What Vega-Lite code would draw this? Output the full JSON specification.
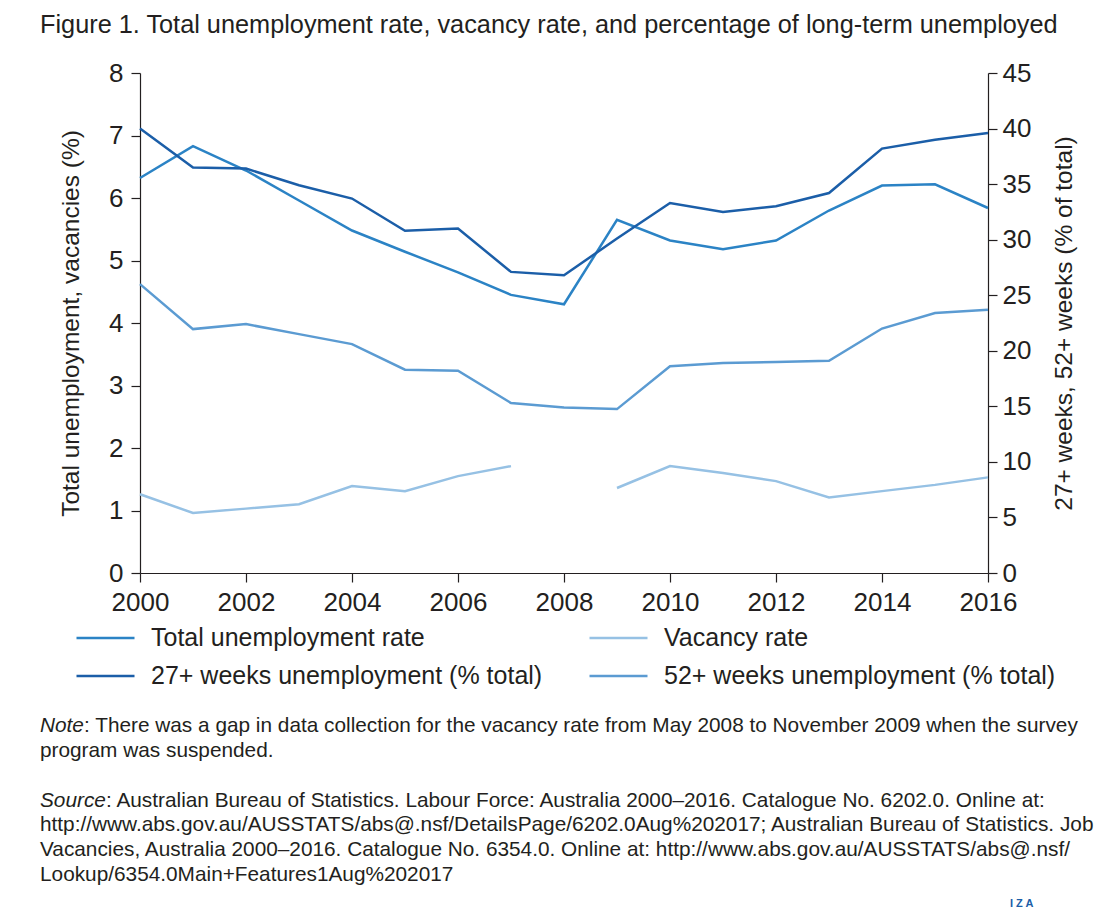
{
  "$schema": "https://vega.github.io/schema/vega-lite/v6.json",
  "background": "white",
  "padding": {"left": 40, "top": 12, "right": 0, "bottom": 0},
  "title": {
    "text": "Figure 1. Total unemployment rate, vacancy rate, and percentage of long-term unemployed",
    "anchor": "start",
    "fontSize": 25.3,
    "fontWeight": "normal",
    "color": "#231f20",
    "font": "Liberation Sans",
    "offset": 22
  },
  "config": {
    "font": "Liberation Sans",
    "view": {"stroke": null},
    "axis": {
      "labelFontSize": 26,
      "labelColor": "#231f20",
      "domainColor": "#231f20",
      "tickColor": "#231f20",
      "tickSize": 9,
      "domainWidth": 1.2,
      "tickWidth": 1.2,
      "titleFontSize": 24.5,
      "titleFontWeight": "normal",
      "titleColor": "#231f20",
      "grid": false,
      "labelFont": "Liberation Sans",
      "titleFont": "Liberation Sans"
    }
  },
  "spacing": 100,
  "vconcat": [
    {
      "width": 848,
      "height": 500,
      "data": {
        "values": [
          {"year": 2000, "series": "Total unemployment rate", "value": 6.32},
          {"year": 2001, "series": "Total unemployment rate", "value": 6.83},
          {"year": 2002, "series": "Total unemployment rate", "value": 6.44},
          {"year": 2003, "series": "Total unemployment rate", "value": 5.96},
          {"year": 2004, "series": "Total unemployment rate", "value": 5.48},
          {"year": 2005, "series": "Total unemployment rate", "value": 5.14},
          {"year": 2006, "series": "Total unemployment rate", "value": 4.81},
          {"year": 2007, "series": "Total unemployment rate", "value": 4.45},
          {"year": 2008, "series": "Total unemployment rate", "value": 4.30},
          {"year": 2009, "series": "Total unemployment rate", "value": 5.65},
          {"year": 2010, "series": "Total unemployment rate", "value": 5.32},
          {"year": 2011, "series": "Total unemployment rate", "value": 5.18},
          {"year": 2012, "series": "Total unemployment rate", "value": 5.32},
          {"year": 2013, "series": "Total unemployment rate", "value": 5.80},
          {"year": 2014, "series": "Total unemployment rate", "value": 6.20},
          {"year": 2015, "series": "Total unemployment rate", "value": 6.22},
          {"year": 2016, "series": "Total unemployment rate", "value": 5.84},
          {"year": 2000, "series": "Vacancy rate", "value": 1.26},
          {"year": 2001, "series": "Vacancy rate", "value": 0.96},
          {"year": 2002, "series": "Vacancy rate", "value": 1.03},
          {"year": 2003, "series": "Vacancy rate", "value": 1.10},
          {"year": 2004, "series": "Vacancy rate", "value": 1.39},
          {"year": 2005, "series": "Vacancy rate", "value": 1.31},
          {"year": 2006, "series": "Vacancy rate", "value": 1.55},
          {"year": 2007, "series": "Vacancy rate", "value": 1.71},
          {"year": 2008, "series": "Vacancy rate", "value": null},
          {"year": 2009, "series": "Vacancy rate", "value": 1.36},
          {"year": 2010, "series": "Vacancy rate", "value": 1.71},
          {"year": 2011, "series": "Vacancy rate", "value": 1.60},
          {"year": 2012, "series": "Vacancy rate", "value": 1.47},
          {"year": 2013, "series": "Vacancy rate", "value": 1.21},
          {"year": 2014, "series": "Vacancy rate", "value": 1.31},
          {"year": 2015, "series": "Vacancy rate", "value": 1.41},
          {"year": 2016, "series": "Vacancy rate", "value": 1.53},
          {"year": 2000, "series": "27+ weeks unemployment (% total)", "value": 40.0},
          {"year": 2001, "series": "27+ weeks unemployment (% total)", "value": 36.5},
          {"year": 2002, "series": "27+ weeks unemployment (% total)", "value": 36.4},
          {"year": 2003, "series": "27+ weeks unemployment (% total)", "value": 34.9},
          {"year": 2004, "series": "27+ weeks unemployment (% total)", "value": 33.7},
          {"year": 2005, "series": "27+ weeks unemployment (% total)", "value": 30.8},
          {"year": 2006, "series": "27+ weeks unemployment (% total)", "value": 31.0},
          {"year": 2007, "series": "27+ weeks unemployment (% total)", "value": 27.1},
          {"year": 2008, "series": "27+ weeks unemployment (% total)", "value": 26.8},
          {"year": 2009, "series": "27+ weeks unemployment (% total)", "value": 30.1},
          {"year": 2010, "series": "27+ weeks unemployment (% total)", "value": 33.3},
          {"year": 2011, "series": "27+ weeks unemployment (% total)", "value": 32.5},
          {"year": 2012, "series": "27+ weeks unemployment (% total)", "value": 33.0},
          {"year": 2013, "series": "27+ weeks unemployment (% total)", "value": 34.2},
          {"year": 2014, "series": "27+ weeks unemployment (% total)", "value": 38.2},
          {"year": 2015, "series": "27+ weeks unemployment (% total)", "value": 39.0},
          {"year": 2016, "series": "27+ weeks unemployment (% total)", "value": 39.6},
          {"year": 2000, "series": "52+ weeks unemployment (% total)", "value": 26.0},
          {"year": 2001, "series": "52+ weeks unemployment (% total)", "value": 21.95},
          {"year": 2002, "series": "52+ weeks unemployment (% total)", "value": 22.4},
          {"year": 2003, "series": "52+ weeks unemployment (% total)", "value": 21.5},
          {"year": 2004, "series": "52+ weeks unemployment (% total)", "value": 20.6},
          {"year": 2005, "series": "52+ weeks unemployment (% total)", "value": 18.3},
          {"year": 2006, "series": "52+ weeks unemployment (% total)", "value": 18.2},
          {"year": 2007, "series": "52+ weeks unemployment (% total)", "value": 15.3},
          {"year": 2008, "series": "52+ weeks unemployment (% total)", "value": 14.9},
          {"year": 2009, "series": "52+ weeks unemployment (% total)", "value": 14.75},
          {"year": 2010, "series": "52+ weeks unemployment (% total)", "value": 18.6},
          {"year": 2011, "series": "52+ weeks unemployment (% total)", "value": 18.9},
          {"year": 2012, "series": "52+ weeks unemployment (% total)", "value": 19.0},
          {"year": 2013, "series": "52+ weeks unemployment (% total)", "value": 19.1},
          {"year": 2014, "series": "52+ weeks unemployment (% total)", "value": 22.0},
          {"year": 2015, "series": "52+ weeks unemployment (% total)", "value": 23.4},
          {"year": 2016, "series": "52+ weeks unemployment (% total)", "value": 23.7}
        ]
      },
      "layer": [
        {
          "transform": [{"filter": {"field": "series", "oneOf": ["Total unemployment rate", "Vacancy rate"]}}],
          "mark": {"type": "line", "strokeWidth": 2.5, "invalid": "break-paths-show-domains"},
          "encoding": {
            "x": {
              "field": "year", "type": "quantitative",
              "scale": {"domain": [2000, 2016], "nice": false, "zero": false},
              "axis": {"values": [2000, 2002, 2004, 2006, 2008, 2010, 2012, 2014, 2016], "format": "d", "title": null, "labelPadding": 7, "labelFlush": false}
            },
            "y": {
              "field": "value", "type": "quantitative",
              "scale": {"domain": [0, 8], "nice": false},
              "axis": {"values": [0, 1, 2, 3, 4, 5, 6, 7, 8], "title": "Total unemployment, vacancies (%)", "titlePadding": 25, "labelPadding": 8}
            },
            "color": {
              "field": "series", "type": "nominal",
              "scale": {
                "domain": ["Total unemployment rate", "Vacancy rate", "27+ weeks unemployment (% total)", "52+ weeks unemployment (% total)"],
                "range": ["#2b83c5", "#96c1e4", "#1b5ea8", "#5b9bd2"]
              },
              "legend": {
                "orient": "none", "legendX": -65, "legendY": 546,
                "columns": 2, "direction": "horizontal", "title": null,
                "symbolType": "stroke", "symbolSize": 3364, "symbolStrokeWidth": 2.5,
                "labelFontSize": 25, "labelColor": "#231f20", "labelOffset": 15,
                "clipHeight": 38, "rowPadding": 0, "columnPadding": 45, "labelLimit": 600
              }
            }
          }
        },
        {
          "transform": [{"filter": {"field": "series", "oneOf": ["27+ weeks unemployment (% total)", "52+ weeks unemployment (% total)"]}}],
          "mark": {"type": "line", "strokeWidth": 2.5},
          "encoding": {
            "x": {"field": "year", "type": "quantitative"},
            "y": {
              "field": "value", "type": "quantitative",
              "scale": {"domain": [0, 45], "nice": false},
              "axis": {"orient": "right", "values": [0, 5, 10, 15, 20, 25, 30, 35, 40, 45], "title": "27+ weeks, 52+ weeks (% of total)", "titleAngle": 270, "titleBaseline": "top", "titlePadding": 22, "labelPadding": 5}
            },
            "color": {"field": "series", "type": "nominal"}
          }
        }
      ],
      "resolve": {"scale": {"y": "independent"}}
    },
    {
      "width": 848,
      "height": 174,
      "data": {
        "values": [
          {"line": 0, "part": "lead", "text": "Note"},
          {"line": 0, "part": "noteRest", "text": ": There was a gap in data collection for the vacancy rate from May 2008 to November 2009 when the survey"},
          {"line": 1, "part": "plain", "text": "program was suspended."},
          {"line": 3, "part": "lead", "text": "Source"},
          {"line": 3, "part": "sourceRest", "text": ": Australian Bureau of Statistics. Labour Force: Australia 2000–2016. Catalogue No. 6202.0. Online at:"},
          {"line": 4, "part": "plain", "text": "http://www.abs.gov.au/AUSSTATS/abs@.nsf/DetailsPage/6202.0Aug%202017; Australian Bureau of Statistics. Job"},
          {"line": 5, "part": "plain", "text": "Vacancies, Australia 2000–2016. Catalogue No. 6354.0. Online at: http://www.abs.gov.au/AUSSTATS/abs@.nsf/"},
          {"line": 6, "part": "plain", "text": "Lookup/6354.0Main+Features1Aug%202017"},
          {"line": 7, "part": "logo", "text": "I Z A"}
        ]
      },
      "encoding": {
        "y": {"field": "line", "type": "quantitative", "scale": {"domain": [0, 7], "reverse": true, "nice": false, "zero": false}, "axis": null}
      },
      "layer": [
        {
          "transform": [{"filter": "datum.part == 'lead'"}],
          "mark": {"type": "text", "align": "left", "baseline": "middle", "fontSize": 20.8, "fontStyle": "italic", "dx": -100, "color": "#231f20"},
          "encoding": {"x": {"datum": 0, "type": "quantitative", "scale": {"domain": [0, 1]}, "axis": null}, "text": {"field": "text"}}
        },
        {
          "transform": [{"filter": "datum.part == 'noteRest'"}],
          "mark": {"type": "text", "align": "left", "baseline": "middle", "fontSize": 20.8, "dx": -56, "color": "#231f20"},
          "encoding": {"x": {"datum": 0, "type": "quantitative"}, "text": {"field": "text"}}
        },
        {
          "transform": [{"filter": "datum.part == 'sourceRest'"}],
          "mark": {"type": "text", "align": "left", "baseline": "middle", "fontSize": 20.8, "dx": -34, "color": "#231f20"},
          "encoding": {"x": {"datum": 0, "type": "quantitative"}, "text": {"field": "text"}}
        },
        {
          "transform": [{"filter": "datum.part == 'plain'"}],
          "mark": {"type": "text", "align": "left", "baseline": "middle", "fontSize": 20.8, "dx": -100, "color": "#231f20"},
          "encoding": {"x": {"datum": 0, "type": "quantitative"}, "text": {"field": "text"}}
        },
        {
          "transform": [{"filter": "datum.part == 'logo'"}],
          "mark": {"type": "text", "align": "left", "baseline": "middle", "fontSize": 11, "fontWeight": "bold", "dx": 22, "dy": 4, "color": "#1b5ea8"},
          "encoding": {"x": {"datum": 1, "type": "quantitative"}, "text": {"field": "text"}}
        }
      ]
    }
  ]
}
